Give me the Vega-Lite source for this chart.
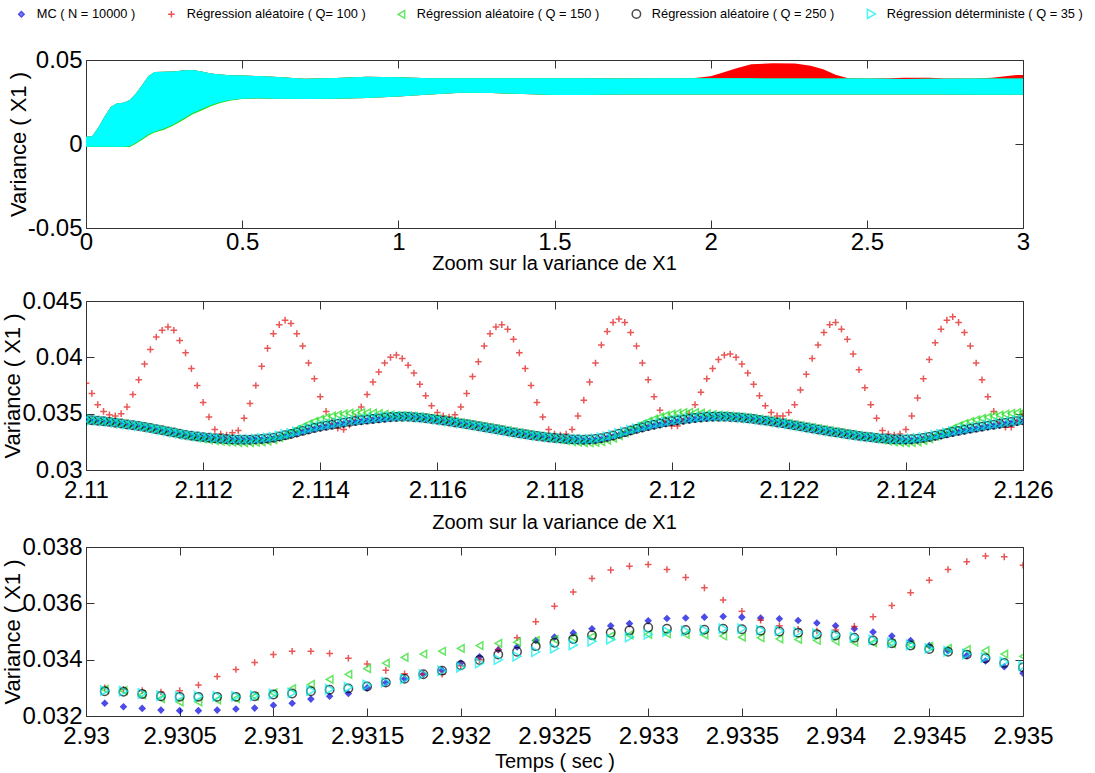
{
"$schema": "https://vega.github.io/schema/vega-lite/v6.json",
"background": "white",
"padding": {"left": 1, "top": 7, "right": 5, "bottom": 0},
"spacing": -2,
"config": {
  "font": "Liberation Sans",
  "view": {"stroke": "#333", "strokeWidth": 1},
  "axis": {"grid": false, "domain": false, "tickColor": "#333", "tickSize": -8, "labelFont": "Liberation Sans", "labelFontSize": 24, "labelColor": "#000", "titleFont": "Liberation Sans", "titleFontWeight": "normal", "titleColor": "#000", "titleFontSize": 22, "labelOverlap": false, "labelFlush": false, "labelPadding": 12},
  "legend": {"labelFont": "Liberation Sans", "labelFontSize": 12.8, "labelColor": "#000", "labelLimit": 400, "columnPadding": 29, "labelOffset": 9, "symbolStrokeWidth": 1.5, "padding": 0}
},
"datasets": {
"lab": [
 {"k": "a", "lbl": "MC ( N = 10000 )"},
 {"k": "b", "lbl": "Régression aléatoire ( Q= 100 )"},
 {"k": "c", "lbl": "Régression aléatoire ( Q = 150 )"},
 {"k": "d", "lbl": "Régression aléatoire ( Q = 250 )"},
 {"k": "e", "lbl": "Régression déterministe ( Q = 35 )"}
],
"top": [
 {"t":0,"lo":-0.0016,"hi":0.0043,"glo":-0.0018,"rhi":0.0043},
 {"t":0.02,"lo":-0.0016,"hi":0.0046,"glo":-0.0018,"rhi":0.0046},
 {"t":0.04,"lo":-0.0016,"hi":0.0100,"glo":-0.0018,"rhi":0.0100},
 {"t":0.06,"lo":-0.0016,"hi":0.0165,"glo":-0.0018,"rhi":0.0165},
 {"t":0.08,"lo":-0.0016,"hi":0.0222,"glo":-0.0018,"rhi":0.0222},
 {"t":0.10,"lo":-0.0016,"hi":0.0242,"glo":-0.0018,"rhi":0.0242},
 {"t":0.12,"lo":-0.0016,"hi":0.0246,"glo":-0.0018,"rhi":0.0246},
 {"t":0.14,"lo":-0.0012,"hi":0.0262,"glo":-0.0018,"rhi":0.0262},
 {"t":0.16,"lo":0.0008,"hi":0.0300,"glo":0.0002,"rhi":0.0300},
 {"t":0.18,"lo":0.0032,"hi":0.0351,"glo":0.0025,"rhi":0.0351},
 {"t":0.20,"lo":0.0058,"hi":0.0405,"glo":0.0050,"rhi":0.0405},
 {"t":0.22,"lo":0.0075,"hi":0.0428,"glo":0.0068,"rhi":0.0428},
 {"t":0.25,"lo":0.0092,"hi":0.0430,"glo":0.0085,"rhi":0.0430},
 {"t":0.28,"lo":0.0118,"hi":0.0432,"glo":0.0110,"rhi":0.0432},
 {"t":0.31,"lo":0.0150,"hi":0.0437,"glo":0.0142,"rhi":0.0437},
 {"t":0.34,"lo":0.0183,"hi":0.0440,"glo":0.0175,"rhi":0.0440},
 {"t":0.37,"lo":0.0208,"hi":0.0432,"glo":0.0200,"rhi":0.0432},
 {"t":0.40,"lo":0.0232,"hi":0.0420,"glo":0.0225,"rhi":0.0420},
 {"t":0.43,"lo":0.0250,"hi":0.0413,"glo":0.0244,"rhi":0.0413},
 {"t":0.46,"lo":0.0262,"hi":0.0409,"glo":0.0258,"rhi":0.0409},
 {"t":0.50,"lo":0.0270,"hi":0.0407,"glo":0.0268,"rhi":0.0407},
 {"t":0.55,"lo":0.0272,"hi":0.0405,"glo":0.0271,"rhi":0.0405},
 {"t":0.60,"lo":0.0270,"hi":0.0400,"glo":0.0270,"rhi":0.0400},
 {"t":0.70,"lo":0.0268,"hi":0.0389,"glo":0.0268,"rhi":0.0389},
 {"t":0.80,"lo":0.0270,"hi":0.0393,"glo":0.0270,"rhi":0.0393},
 {"t":0.90,"lo":0.0274,"hi":0.0401,"glo":0.0274,"rhi":0.0401},
 {"t":1.00,"lo":0.0282,"hi":0.0398,"glo":0.0282,"rhi":0.0398},
 {"t":1.10,"lo":0.0295,"hi":0.0392,"glo":0.0295,"rhi":0.0392},
 {"t":1.20,"lo":0.0305,"hi":0.0391,"glo":0.0305,"rhi":0.0391},
 {"t":1.30,"lo":0.0303,"hi":0.0392,"glo":0.0303,"rhi":0.0392},
 {"t":1.40,"lo":0.0297,"hi":0.0391,"glo":0.0297,"rhi":0.0391},
 {"t":1.50,"lo":0.0292,"hi":0.0391,"glo":0.0292,"rhi":0.0391},
 {"t":1.60,"lo":0.0292,"hi":0.0391,"glo":0.0292,"rhi":0.0391},
 {"t":1.70,"lo":0.0294,"hi":0.0390,"glo":0.0294,"rhi":0.0390},
 {"t":1.80,"lo":0.0295,"hi":0.0391,"glo":0.0295,"rhi":0.0391},
 {"t":1.90,"lo":0.0295,"hi":0.0391,"glo":0.0295,"rhi":0.0391},
 {"t":1.95,"lo":0.0295,"hi":0.0391,"glo":0.0295,"rhi":0.0393},
 {"t":2.00,"lo":0.0295,"hi":0.0391,"glo":0.0295,"rhi":0.0404},
 {"t":2.04,"lo":0.0295,"hi":0.0391,"glo":0.0295,"rhi":0.0425},
 {"t":2.08,"lo":0.0295,"hi":0.0391,"glo":0.0295,"rhi":0.0450},
 {"t":2.13,"lo":0.0295,"hi":0.0391,"glo":0.0295,"rhi":0.0474},
 {"t":2.20,"lo":0.0294,"hi":0.0390,"glo":0.0294,"rhi":0.0480},
 {"t":2.27,"lo":0.0294,"hi":0.0390,"glo":0.0294,"rhi":0.0479},
 {"t":2.32,"lo":0.0294,"hi":0.0390,"glo":0.0294,"rhi":0.0466},
 {"t":2.36,"lo":0.0294,"hi":0.0390,"glo":0.0294,"rhi":0.0445},
 {"t":2.40,"lo":0.0294,"hi":0.0390,"glo":0.0294,"rhi":0.0412},
 {"t":2.44,"lo":0.0294,"hi":0.0390,"glo":0.0294,"rhi":0.0391},
 {"t":2.50,"lo":0.0294,"hi":0.0390,"glo":0.0294,"rhi":0.0390},
 {"t":2.57,"lo":0.0294,"hi":0.0389,"glo":0.0294,"rhi":0.0391},
 {"t":2.62,"lo":0.0295,"hi":0.0387,"glo":0.0295,"rhi":0.0395},
 {"t":2.70,"lo":0.0295,"hi":0.0388,"glo":0.0295,"rhi":0.0395},
 {"t":2.75,"lo":0.0294,"hi":0.0389,"glo":0.0294,"rhi":0.0390},
 {"t":2.85,"lo":0.0293,"hi":0.0390,"glo":0.0293,"rhi":0.0390},
 {"t":2.90,"lo":0.0293,"hi":0.0390,"glo":0.0293,"rhi":0.0395},
 {"t":2.95,"lo":0.0293,"hi":0.0390,"glo":0.0293,"rhi":0.0405},
 {"t":2.98,"lo":0.0293,"hi":0.0390,"glo":0.0293,"rhi":0.0410},
 {"t":3.00,"lo":0.0293,"hi":0.0390,"glo":0.0293,"rhi":0.0410}
],
"mid": [
{"t":2.11,"a":0.03445,"b":0.0377,"c":0.03445,"d":0.03447,"e":0.0345},
{"t":2.1101,"a":0.0344,"b":0.0368,"c":0.0344,"d":0.03442,"e":0.03445},
{"t":2.1102,"a":0.03435,"b":0.0358,"c":0.03435,"d":0.03437,"e":0.0344},
{"t":2.1103,"a":0.0343,"b":0.0352,"c":0.0343,"d":0.03432,"e":0.03435},
{"t":2.1104,"a":0.03425,"b":0.0349,"c":0.03425,"d":0.03427,"e":0.0343},
{"t":2.1105,"a":0.03418,"b":0.0348,"c":0.03418,"d":0.0342,"e":0.03423},
{"t":2.1106,"a":0.0341,"b":0.035,"c":0.0341,"d":0.03412,"e":0.03415},
{"t":2.1107,"a":0.03402,"b":0.0356,"c":0.03402,"d":0.03404,"e":0.03407},
{"t":2.1108,"a":0.03395,"b":0.0367,"c":0.03395,"d":0.03397,"e":0.034},
{"t":2.1109,"a":0.03388,"b":0.038,"c":0.03388,"d":0.0339,"e":0.03393},
{"t":2.111,"a":0.0338,"b":0.0394,"c":0.0338,"d":0.03382,"e":0.03385},
{"t":2.1111,"a":0.0337,"b":0.0407,"c":0.0337,"d":0.03372,"e":0.03375},
{"t":2.1112,"a":0.0336,"b":0.0418,"c":0.0336,"d":0.03362,"e":0.03365},
{"t":2.1113,"a":0.0335,"b":0.0424,"c":0.0335,"d":0.03352,"e":0.03355},
{"t":2.1114,"a":0.0334,"b":0.0427,"c":0.0334,"d":0.03342,"e":0.03345},
{"t":2.1115,"a":0.0333,"b":0.0424,"c":0.0333,"d":0.03332,"e":0.03335},
{"t":2.1116,"a":0.0332,"b":0.0415,"c":0.03318,"d":0.03322,"e":0.03325},
{"t":2.1117,"a":0.0331,"b":0.0404,"c":0.03306,"d":0.03312,"e":0.03315},
{"t":2.1118,"a":0.03302,"b":0.039,"c":0.03295,"d":0.03304,"e":0.03307},
{"t":2.1119,"a":0.03295,"b":0.0375,"c":0.03285,"d":0.03297,"e":0.033},
{"t":2.112,"a":0.0329,"b":0.036,"c":0.03276,"d":0.03292,"e":0.03295},
{"t":2.1121,"a":0.03285,"b":0.0347,"c":0.03268,"d":0.03287,"e":0.0329},
{"t":2.1122,"a":0.0328,"b":0.0336,"c":0.03261,"d":0.03282,"e":0.03285},
{"t":2.1123,"a":0.03275,"b":0.0332,"c":0.03255,"d":0.03277,"e":0.0328},
{"t":2.1124,"a":0.03272,"b":0.0331,"c":0.0325,"d":0.03274,"e":0.03277},
{"t":2.1125,"a":0.03269,"b":0.0333,"c":0.03246,"d":0.03271,"e":0.03274},
{"t":2.1126,"a":0.03267,"b":0.0335,"c":0.03243,"d":0.03269,"e":0.03272},
{"t":2.1127,"a":0.03266,"b":0.0346,"c":0.03242,"d":0.03268,"e":0.03271},
{"t":2.1128,"a":0.03267,"b":0.0359,"c":0.03243,"d":0.03269,"e":0.03272},
{"t":2.1129,"a":0.0327,"b":0.0375,"c":0.03246,"d":0.03272,"e":0.03275},
{"t":2.113,"a":0.03265,"b":0.0392,"c":0.0325,"d":0.03275,"e":0.0328},
{"t":2.1131,"a":0.0327,"b":0.0408,"c":0.03257,"d":0.0328,"e":0.03285},
{"t":2.1132,"a":0.03277,"b":0.0421,"c":0.0327,"d":0.03287,"e":0.03292},
{"t":2.1133,"a":0.03287,"b":0.0429,"c":0.03288,"d":0.03297,"e":0.03302},
{"t":2.1134,"a":0.03298,"b":0.0433,"c":0.0331,"d":0.03308,"e":0.03313},
{"t":2.1135,"a":0.0331,"b":0.043,"c":0.03335,"d":0.0332,"e":0.03325},
{"t":2.1136,"a":0.03323,"b":0.0421,"c":0.0336,"d":0.03333,"e":0.03338},
{"t":2.1137,"a":0.03337,"b":0.041,"c":0.03385,"d":0.03347,"e":0.03352},
{"t":2.1138,"a":0.0335,"b":0.0395,"c":0.0341,"d":0.0336,"e":0.03365},
{"t":2.1139,"a":0.03362,"b":0.0381,"c":0.03432,"d":0.03372,"e":0.03377},
{"t":2.114,"a":0.03373,"b":0.0365,"c":0.0345,"d":0.03383,"e":0.03388},
{"t":2.1141,"a":0.03383,"b":0.0352,"c":0.03465,"d":0.03393,"e":0.03398},
{"t":2.1142,"a":0.03392,"b":0.0343,"c":0.03478,"d":0.03402,"e":0.03407},
{"t":2.1143,"a":0.03401,"b":0.0337,"c":0.0349,"d":0.03411,"e":0.03416},
{"t":2.1144,"a":0.03409,"b":0.0336,"c":0.03498,"d":0.03419,"e":0.03424},
{"t":2.1145,"a":0.03417,"b":0.034,"c":0.03505,"d":0.03427,"e":0.03432},
{"t":2.1146,"a":0.03424,"b":0.0347,"c":0.03508,"d":0.03434,"e":0.03439},
{"t":2.1147,"a":0.03431,"b":0.0356,"c":0.0351,"d":0.03441,"e":0.03446},
{"t":2.1148,"a":0.03437,"b":0.0367,"c":0.03508,"d":0.03447,"e":0.03452},
{"t":2.1149,"a":0.03443,"b":0.0378,"c":0.03505,"d":0.03453,"e":0.03458},
{"t":2.115,"a":0.03448,"b":0.0387,"c":0.035,"d":0.03458,"e":0.03463},
{"t":2.1151,"a":0.03453,"b":0.0395,"c":0.03495,"d":0.03463,"e":0.03468},
{"t":2.1152,"a":0.03459,"b":0.04,"c":0.0349,"d":0.03468,"e":0.03472},
{"t":2.1153,"a":0.03464,"b":0.0402,"c":0.03485,"d":0.03471,"e":0.03475},
{"t":2.1154,"a":0.03468,"b":0.0399,"c":0.03482,"d":0.03472,"e":0.03476},
{"t":2.1155,"a":0.0347,"b":0.0393,"c":0.0348,"d":0.03472,"e":0.03475},
{"t":2.1156,"a":0.03467,"b":0.0386,"c":0.03477,"d":0.03469,"e":0.03472},
{"t":2.1157,"a":0.03463,"b":0.0376,"c":0.03472,"d":0.03465,"e":0.03468},
{"t":2.1158,"a":0.03457,"b":0.0366,"c":0.03466,"d":0.03459,"e":0.03462},
{"t":2.1159,"a":0.03451,"b":0.0357,"c":0.0346,"d":0.03453,"e":0.03456},
{"t":2.116,"a":0.03444,"b":0.0351,"c":0.03453,"d":0.03446,"e":0.03449},
{"t":2.1161,"a":0.03436,"b":0.0348,"c":0.03445,"d":0.03438,"e":0.03441},
{"t":2.1162,"a":0.03428,"b":0.0347,"c":0.03437,"d":0.0343,"e":0.03433},
{"t":2.1163,"a":0.0342,"b":0.0349,"c":0.03429,"d":0.03422,"e":0.03425},
{"t":2.1164,"a":0.03412,"b":0.0356,"c":0.03421,"d":0.03414,"e":0.03417},
{"t":2.1165,"a":0.03404,"b":0.0368,"c":0.03413,"d":0.03406,"e":0.03409},
{"t":2.1166,"a":0.03395,"b":0.0383,"c":0.03404,"d":0.03397,"e":0.034},
{"t":2.1167,"a":0.03386,"b":0.0396,"c":0.03395,"d":0.03388,"e":0.03391},
{"t":2.1168,"a":0.03377,"b":0.041,"c":0.03386,"d":0.03379,"e":0.03382},
{"t":2.1169,"a":0.03368,"b":0.0421,"c":0.03377,"d":0.0337,"e":0.03373},
{"t":2.117,"a":0.03359,"b":0.0427,"c":0.03368,"d":0.03361,"e":0.03364},
{"t":2.1171,"a":0.0335,"b":0.0429,"c":0.03359,"d":0.03352,"e":0.03355},
{"t":2.1172,"a":0.03341,"b":0.0425,"c":0.0335,"d":0.03343,"e":0.03346},
{"t":2.1173,"a":0.03332,"b":0.0416,"c":0.03341,"d":0.03334,"e":0.03337},
{"t":2.1174,"a":0.03323,"b":0.0404,"c":0.03332,"d":0.03325,"e":0.03328},
{"t":2.1175,"a":0.03315,"b":0.039,"c":0.03322,"d":0.03317,"e":0.0332},
{"t":2.1176,"a":0.03307,"b":0.0375,"c":0.03312,"d":0.03309,"e":0.03312},
{"t":2.1177,"a":0.033,"b":0.036,"c":0.03303,"d":0.03302,"e":0.03305},
{"t":2.1178,"a":0.03293,"b":0.0347,"c":0.03294,"d":0.03295,"e":0.03298},
{"t":2.1179,"a":0.03287,"b":0.0336,"c":0.03287,"d":0.03289,"e":0.03292},
{"t":2.118,"a":0.03282,"b":0.0332,"c":0.0328,"d":0.03284,"e":0.03287},
{"t":2.1181,"a":0.03277,"b":0.0331,"c":0.0327,"d":0.03279,"e":0.03282},
{"t":2.1182,"a":0.03273,"b":0.0332,"c":0.0326,"d":0.03275,"e":0.03278},
{"t":2.1183,"a":0.0327,"b":0.0336,"c":0.03252,"d":0.03272,"e":0.03275},
{"t":2.1184,"a":0.03268,"b":0.0348,"c":0.03246,"d":0.0327,"e":0.03273},
{"t":2.1185,"a":0.03262,"b":0.0362,"c":0.03242,"d":0.03269,"e":0.03272},
{"t":2.1186,"a":0.0326,"b":0.0378,"c":0.03242,"d":0.0327,"e":0.03273},
{"t":2.1187,"a":0.03263,"b":0.0395,"c":0.03245,"d":0.03275,"e":0.03278},
{"t":2.1188,"a":0.03271,"b":0.0411,"c":0.03252,"d":0.03283,"e":0.03286},
{"t":2.1189,"a":0.03282,"b":0.0423,"c":0.03265,"d":0.03294,"e":0.03297},
{"t":2.119,"a":0.03295,"b":0.0431,"c":0.03282,"d":0.03307,"e":0.0331},
{"t":2.1191,"a":0.03309,"b":0.0434,"c":0.03305,"d":0.03321,"e":0.03324},
{"t":2.1192,"a":0.03324,"b":0.0431,"c":0.0333,"d":0.03336,"e":0.03339},
{"t":2.1193,"a":0.03339,"b":0.0422,"c":0.03357,"d":0.03351,"e":0.03354},
{"t":2.1194,"a":0.03353,"b":0.041,"c":0.03385,"d":0.03365,"e":0.03368},
{"t":2.1195,"a":0.03366,"b":0.0395,"c":0.0341,"d":0.03378,"e":0.03381},
{"t":2.1196,"a":0.03378,"b":0.038,"c":0.03432,"d":0.0339,"e":0.03393},
{"t":2.1197,"a":0.0339,"b":0.0365,"c":0.03452,"d":0.03402,"e":0.03405},
{"t":2.1198,"a":0.03401,"b":0.0353,"c":0.0347,"d":0.03413,"e":0.03416},
{"t":2.1199,"a":0.03411,"b":0.0344,"c":0.03485,"d":0.03423,"e":0.03426},
{"t":2.12,"a":0.0342,"b":0.0339,"c":0.03497,"d":0.03432,"e":0.03435},
{"t":2.1201,"a":0.03428,"b":0.0339,"c":0.03505,"d":0.0344,"e":0.03443},
{"t":2.1202,"a":0.03435,"b":0.0343,"c":0.0351,"d":0.03447,"e":0.0345},
{"t":2.1203,"a":0.03442,"b":0.035,"c":0.03512,"d":0.03454,"e":0.03457},
{"t":2.1204,"a":0.03449,"b":0.0358,"c":0.0351,"d":0.03461,"e":0.03464},
{"t":2.1205,"a":0.03455,"b":0.0369,"c":0.03505,"d":0.03466,"e":0.03469},
{"t":2.1206,"a":0.0346,"b":0.0381,"c":0.03498,"d":0.0347,"e":0.03473},
{"t":2.1207,"a":0.03465,"b":0.039,"c":0.03492,"d":0.03472,"e":0.03475},
{"t":2.1208,"a":0.03469,"b":0.0398,"c":0.03487,"d":0.03473,"e":0.03476},
{"t":2.1209,"a":0.0347,"b":0.0402,"c":0.03482,"d":0.03472,"e":0.03475},
{"t":2.121,"a":0.03468,"b":0.0403,"c":0.03478,"d":0.0347,"e":0.03473},
{"t":2.1211,"a":0.03465,"b":0.04,"c":0.03474,"d":0.03467,"e":0.0347},
{"t":2.1212,"a":0.03461,"b":0.0394,"c":0.0347,"d":0.03463,"e":0.03466},
{"t":2.1213,"a":0.03456,"b":0.0386,"c":0.03465,"d":0.03458,"e":0.03461},
{"t":2.1214,"a":0.0345,"b":0.0376,"c":0.03459,"d":0.03452,"e":0.03455},
{"t":2.1215,"a":0.03443,"b":0.0366,"c":0.03452,"d":0.03445,"e":0.03448},
{"t":2.1216,"a":0.03436,"b":0.0357,"c":0.03445,"d":0.03438,"e":0.03441},
{"t":2.1217,"a":0.03428,"b":0.0351,"c":0.03437,"d":0.0343,"e":0.03433},
{"t":2.1218,"a":0.0342,"b":0.0348,"c":0.03429,"d":0.03422,"e":0.03425},
{"t":2.1219,"a":0.03412,"b":0.0348,"c":0.03421,"d":0.03414,"e":0.03417},
{"t":2.122,"a":0.03403,"b":0.0351,"c":0.03412,"d":0.03405,"e":0.03408},
{"t":2.1221,"a":0.03394,"b":0.0358,"c":0.03403,"d":0.03396,"e":0.03399},
{"t":2.1222,"a":0.03385,"b":0.0371,"c":0.03394,"d":0.03387,"e":0.0339},
{"t":2.1223,"a":0.03376,"b":0.0385,"c":0.03385,"d":0.03378,"e":0.03381},
{"t":2.1224,"a":0.03367,"b":0.0399,"c":0.03376,"d":0.03369,"e":0.03372},
{"t":2.1225,"a":0.03358,"b":0.0411,"c":0.03367,"d":0.0336,"e":0.03363},
{"t":2.1226,"a":0.03349,"b":0.0422,"c":0.03358,"d":0.03351,"e":0.03354},
{"t":2.1227,"a":0.0334,"b":0.0429,"c":0.03349,"d":0.03342,"e":0.03345},
{"t":2.1228,"a":0.03332,"b":0.0431,"c":0.0334,"d":0.03334,"e":0.03337},
{"t":2.1229,"a":0.03324,"b":0.0425,"c":0.03332,"d":0.03326,"e":0.03329},
{"t":2.123,"a":0.03316,"b":0.0416,"c":0.03323,"d":0.03318,"e":0.03321},
{"t":2.1231,"a":0.03308,"b":0.0403,"c":0.03314,"d":0.0331,"e":0.03313},
{"t":2.1232,"a":0.03301,"b":0.0389,"c":0.03305,"d":0.03303,"e":0.03306},
{"t":2.1233,"a":0.03294,"b":0.0373,"c":0.03297,"d":0.03296,"e":0.03299},
{"t":2.1234,"a":0.03288,"b":0.0358,"c":0.0329,"d":0.0329,"e":0.03293},
{"t":2.1235,"a":0.03282,"b":0.0346,"c":0.03278,"d":0.03284,"e":0.03287},
{"t":2.1236,"a":0.03277,"b":0.0335,"c":0.03267,"d":0.03279,"e":0.03282},
{"t":2.1237,"a":0.03273,"b":0.0332,"c":0.03257,"d":0.03275,"e":0.03278},
{"t":2.1238,"a":0.0327,"b":0.0331,"c":0.03249,"d":0.03272,"e":0.03275},
{"t":2.1239,"a":0.03268,"b":0.0332,"c":0.03244,"d":0.0327,"e":0.03273},
{"t":2.124,"a":0.0326,"b":0.0336,"c":0.03242,"d":0.0327,"e":0.03273},
{"t":2.1241,"a":0.03261,"b":0.0348,"c":0.03244,"d":0.03273,"e":0.03276},
{"t":2.1242,"a":0.03266,"b":0.0364,"c":0.0325,"d":0.03278,"e":0.03281},
{"t":2.1243,"a":0.03273,"b":0.0381,"c":0.03262,"d":0.03285,"e":0.03288},
{"t":2.1244,"a":0.03282,"b":0.0398,"c":0.03278,"d":0.03294,"e":0.03297},
{"t":2.1245,"a":0.03292,"b":0.0413,"c":0.03298,"d":0.03304,"e":0.03307},
{"t":2.1246,"a":0.03303,"b":0.0425,"c":0.0332,"d":0.03315,"e":0.03318},
{"t":2.1247,"a":0.03314,"b":0.0433,"c":0.03345,"d":0.03326,"e":0.03329},
{"t":2.1248,"a":0.03325,"b":0.0436,"c":0.0337,"d":0.03337,"e":0.0334},
{"t":2.1249,"a":0.03335,"b":0.0431,"c":0.03393,"d":0.03347,"e":0.0335},
{"t":2.125,"a":0.03345,"b":0.0422,"c":0.03413,"d":0.03357,"e":0.0336},
{"t":2.1251,"a":0.03355,"b":0.041,"c":0.0343,"d":0.03367,"e":0.0337},
{"t":2.1252,"a":0.03364,"b":0.0395,"c":0.03445,"d":0.03376,"e":0.03379},
{"t":2.1253,"a":0.03373,"b":0.038,"c":0.03458,"d":0.03385,"e":0.03388},
{"t":2.1254,"a":0.03382,"b":0.0365,"c":0.0347,"d":0.03394,"e":0.03397},
{"t":2.1255,"a":0.0339,"b":0.0352,"c":0.0348,"d":0.03402,"e":0.03405},
{"t":2.1256,"a":0.03398,"b":0.0343,"c":0.03488,"d":0.0341,"e":0.03413},
{"t":2.1257,"a":0.03406,"b":0.0338,"c":0.03496,"d":0.03418,"e":0.03421},
{"t":2.1258,"a":0.03414,"b":0.0338,"c":0.03503,"d":0.03426,"e":0.03429},
{"t":2.1259,"a":0.03422,"b":0.0343,"c":0.0351,"d":0.03434,"e":0.03437},
{"t":2.126,"a":0.0343,"b":0.035,"c":0.03515,"d":0.03442,"e":0.03445}
],
"bot": [
{"t":2.9301,"a":0.03245,"b":0.033,"c":0.03295,"d":0.03288,"e":0.0329},
{"t":2.9302,"a":0.03233,"b":0.03295,"c":0.0329,"d":0.03286,"e":0.03288},
{"t":2.9303,"a":0.03227,"b":0.0329,"c":0.03275,"d":0.03278,"e":0.0328},
{"t":2.9304,"a":0.03221,"b":0.03285,"c":0.03262,"d":0.0327,"e":0.03272},
{"t":2.9305,"a":0.03219,"b":0.0329,"c":0.0325,"d":0.03268,"e":0.0327},
{"t":2.9306,"a":0.03219,"b":0.0331,"c":0.0325,"d":0.03268,"e":0.0327},
{"t":2.9307,"a":0.03221,"b":0.0334,"c":0.03257,"d":0.03268,"e":0.0327},
{"t":2.9308,"a":0.03225,"b":0.03365,"c":0.03262,"d":0.03268,"e":0.0327},
{"t":2.9309,"a":0.03228,"b":0.0339,"c":0.0327,"d":0.0327,"e":0.03272},
{"t":2.931,"a":0.03238,"b":0.03418,"c":0.03282,"d":0.03276,"e":0.03278},
{"t":2.9311,"a":0.03245,"b":0.0343,"c":0.03297,"d":0.0328,"e":0.03282},
{"t":2.9312,"a":0.0326,"b":0.0343,"c":0.03312,"d":0.03288,"e":0.0329},
{"t":2.9313,"a":0.0327,"b":0.03422,"c":0.0333,"d":0.03293,"e":0.03295},
{"t":2.9314,"a":0.0328,"b":0.03405,"c":0.03348,"d":0.03298,"e":0.03302},
{"t":2.9315,"a":0.033,"b":0.03385,"c":0.03368,"d":0.03305,"e":0.0331},
{"t":2.9316,"a":0.03318,"b":0.03362,"c":0.03388,"d":0.03319,"e":0.0332},
{"t":2.9317,"a":0.03332,"b":0.0335,"c":0.03408,"d":0.03332,"e":0.03332},
{"t":2.9318,"a":0.03348,"b":0.03348,"c":0.0342,"d":0.03348,"e":0.03348},
{"t":2.9319,"a":0.03362,"b":0.03348,"c":0.0343,"d":0.03361,"e":0.0336},
{"t":2.932,"a":0.03388,"b":0.03378,"c":0.0344,"d":0.0338,"e":0.03373},
{"t":2.9321,"a":0.0341,"b":0.034,"c":0.0345,"d":0.03399,"e":0.03388},
{"t":2.9322,"a":0.03435,"b":0.03435,"c":0.03458,"d":0.03418,"e":0.034},
{"t":2.9323,"a":0.03445,"b":0.03478,"c":0.03462,"d":0.03428,"e":0.03412},
{"t":2.9324,"a":0.03468,"b":0.03535,"c":0.03468,"d":0.03448,"e":0.03428},
{"t":2.9325,"a":0.0348,"b":0.0359,"c":0.03472,"d":0.0346,"e":0.0344},
{"t":2.9326,"a":0.03495,"b":0.0364,"c":0.03478,"d":0.03473,"e":0.03452},
{"t":2.9327,"a":0.0351,"b":0.03688,"c":0.03482,"d":0.03487,"e":0.03465},
{"t":2.9328,"a":0.0352,"b":0.03718,"c":0.03484,"d":0.03496,"e":0.03472},
{"t":2.9329,"a":0.03528,"b":0.03732,"c":0.03488,"d":0.03504,"e":0.0348},
{"t":2.933,"a":0.03538,"b":0.03738,"c":0.0349,"d":0.03514,"e":0.0349},
{"t":2.9331,"a":0.03546,"b":0.0372,"c":0.03492,"d":0.0351,"e":0.035},
{"t":2.9332,"a":0.03548,"b":0.03692,"c":0.0349,"d":0.03505,"e":0.03502},
{"t":2.9333,"a":0.03551,"b":0.03655,"c":0.03488,"d":0.03506,"e":0.03505},
{"t":2.9334,"a":0.03553,"b":0.03612,"c":0.03484,"d":0.0351,"e":0.0351},
{"t":2.9335,"a":0.03551,"b":0.03572,"c":0.0348,"d":0.03508,"e":0.0351},
{"t":2.9336,"a":0.03548,"b":0.0354,"c":0.03478,"d":0.03503,"e":0.03505},
{"t":2.9337,"a":0.03545,"b":0.0352,"c":0.03474,"d":0.035,"e":0.03502},
{"t":2.9338,"a":0.03539,"b":0.03508,"c":0.03472,"d":0.03496,"e":0.03498},
{"t":2.9339,"a":0.0353,"b":0.03502,"c":0.03468,"d":0.0349,"e":0.03492},
{"t":2.934,"a":0.0352,"b":0.03505,"c":0.03466,"d":0.03486,"e":0.03488},
{"t":2.9341,"a":0.0351,"b":0.03518,"c":0.03462,"d":0.03478,"e":0.0348},
{"t":2.9342,"a":0.03498,"b":0.03552,"c":0.0346,"d":0.03468,"e":0.0347},
{"t":2.9343,"a":0.03484,"b":0.03592,"c":0.03457,"d":0.03458,"e":0.0346},
{"t":2.9344,"a":0.03468,"b":0.03638,"c":0.03452,"d":0.0345,"e":0.03452},
{"t":2.9345,"a":0.0345,"b":0.03682,"c":0.03447,"d":0.03438,"e":0.0344},
{"t":2.9346,"a":0.03432,"b":0.0372,"c":0.0344,"d":0.03428,"e":0.0343},
{"t":2.9347,"a":0.03415,"b":0.03748,"c":0.03436,"d":0.03418,"e":0.0342},
{"t":2.9348,"a":0.03395,"b":0.03768,"c":0.03432,"d":0.03405,"e":0.03408},
{"t":2.9349,"a":0.03375,"b":0.03765,"c":0.0342,"d":0.03388,"e":0.03392},
{"t":2.935,"a":0.03352,"b":0.03735,"c":0.03412,"d":0.03372,"e":0.03378}
]
},
"vconcat": [
{
  "width": 937, "height": 168,
  "data": {"name": "top"},
  "layer": [
    {"mark": {"type": "area", "color": "#FF0000"},
     "encoding": {
       "x": {"field": "t", "type": "quantitative", "scale": {"domain": [0, 3], "nice": false, "zero": false}, "axis": {"orient": "bottom", "values": [0, 0.5, 1, 1.5, 2, 2.5, 3], "format": "~g", "title": null, "labelPadding": 10}},
       "y": {"field": "lo", "type": "quantitative", "scale": {"domain": [-0.05, 0.05], "nice": false, "zero": false}, "axis": {"orient": "left", "values": [-0.05, 0, 0.05], "format": "~g", "labelExpr": "replace(datum.label, '\u2212', '-')", "title": "Variance ( X1 )", "titlePadding": -3}},
       "y2": {"field": "rhi"}}},
    {"mark": {"type": "area", "color": "#22DD22"},
     "encoding": {
       "x": {"field": "t", "type": "quantitative", "axis": null},
       "y": {"field": "glo", "type": "quantitative", "axis": null},
       "y2": {"field": "hi"}}},
    {"mark": {"type": "area", "color": "#00FFFF"},
     "encoding": {
       "x": {"field": "t", "type": "quantitative", "axis": null},
       "y": {"field": "lo", "type": "quantitative", "axis": null},
       "y2": {"field": "hi"}}},
    {"mark": {"type": "point", "opacity": 0},
     "encoding": {
       "x": {"field": "t", "type": "quantitative", "axis": {"orient": "top", "values": [0, 0.5, 1, 1.5, 2, 2.5, 3], "labels": false, "title": null}},
       "y": {"field": "lo", "type": "quantitative", "axis": {"orient": "right", "values": [-0.05, 0, 0.05], "labels": false, "title": null}}}}
  ],
  "resolve": {"axis": {"x": "independent", "y": "independent"}}
},
{
  "spacing": 9,
  "vconcat": [
  {
    "width": 937, "height": 169,
    "title": {"text": "Zoom sur la variance de X1", "fontSize": 20, "font": "Liberation Sans", "fontWeight": "normal", "color": "#000", "frame": "group", "offset": 15},
    "data": {"name": "mid"},
    "transform": [
      {"fold": ["a", "b", "c", "d", "e"], "as": ["s", "v"]},
      {"lookup": "s", "from": {"data": {"name": "lab"}, "key": "k", "fields": ["lbl"]}}
    ],
    "layer": [
      {"mark": {"type": "point", "strokeWidth": 1.5, "clip": true},
       "encoding": {
         "x": {"field": "t", "type": "quantitative", "scale": {"domain": [2.11, 2.126], "nice": false, "zero": false}, "axis": {"orient": "bottom", "values": [2.11, 2.112, 2.114, 2.116, 2.118, 2.12, 2.122, 2.124, 2.126], "format": "~g", "title": null, "labelPadding": 16}},
         "y": {"field": "v", "type": "quantitative", "scale": {"domain": [0.03, 0.045], "nice": false, "zero": false}, "axis": {"orient": "left", "values": [0.03, 0.035, 0.04, 0.045], "format": "~g", "title": "Variance ( X1 )", "titlePadding": -3}},
         "stroke": {"field": "lbl", "type": "nominal", "title": null, "scale": {"domain": ["MC ( N = 10000 )", "Régression aléatoire ( Q= 100 )", "Régression aléatoire ( Q = 150 )", "Régression aléatoire ( Q = 250 )", "Régression déterministe ( Q = 35 )"], "range": ["#0000DD", "#E01010", "#22DD22", "#000000", "#00EEEE"]}, "legend": {"orient": "none", "direction": "horizontal", "columns": 5, "legendX": -71, "legendY": -53}},
         "fill": {"field": "lbl", "type": "nominal", "title": null, "scale": {"domain": ["MC ( N = 10000 )", "Régression aléatoire ( Q= 100 )", "Régression aléatoire ( Q = 150 )", "Régression aléatoire ( Q = 250 )", "Régression déterministe ( Q = 35 )"], "range": ["#0000DD", "transparent", "transparent", "transparent", "transparent"]}, "legend": {"orient": "none", "direction": "horizontal", "columns": 5, "legendX": -71, "legendY": -53}},
         "shape": {"field": "lbl", "type": "nominal", "title": null, "scale": {"domain": ["MC ( N = 10000 )", "Régression aléatoire ( Q= 100 )", "Régression aléatoire ( Q = 150 )", "Régression aléatoire ( Q = 250 )", "Régression déterministe ( Q = 35 )"], "range": ["diamond", "M-1,0L1,0M0,-1L0,1", "triangle-left", "circle", "triangle-right"]}, "legend": {"orient": "none", "direction": "horizontal", "columns": 5, "legendX": -71, "legendY": -53}},
         "size": {"field": "lbl", "type": "nominal", "title": null, "scale": {"domain": ["MC ( N = 10000 )", "Régression aléatoire ( Q= 100 )", "Régression aléatoire ( Q = 150 )", "Régression aléatoire ( Q = 250 )", "Régression déterministe ( Q = 35 )"], "range": [30, 85, 55, 16, 55]}, "legend": {"orient": "none", "direction": "horizontal", "columns": 5, "legendX": -71, "legendY": -53}},
         "order": {"field": "s", "sort": "ascending"}}},
      {"mark": {"type": "point", "opacity": 0},
       "encoding": {
         "x": {"field": "t", "type": "quantitative", "axis": {"orient": "top", "values": [2.11, 2.112, 2.114, 2.116, 2.118, 2.12, 2.122, 2.124, 2.126], "labels": false, "title": null}},
         "y": {"field": "v", "type": "quantitative", "axis": {"orient": "right", "values": [0.03, 0.035, 0.04, 0.045], "labels": false, "title": null}}}}
    ],
    "resolve": {"axis": {"x": "independent", "y": "independent"}}
  },
  {
    "width": 937, "height": 169,
    "title": {"text": "Zoom sur la variance de X1", "fontSize": 20, "font": "Liberation Sans", "fontWeight": "normal", "color": "#000", "frame": "group", "offset": 2},
    "data": {"name": "bot"},
    "transform": [
      {"fold": ["a", "b", "c", "d", "e"], "as": ["s", "v"]},
      {"lookup": "s", "from": {"data": {"name": "lab"}, "key": "k", "fields": ["lbl"]}}
    ],
    "layer": [
      {"mark": {"type": "point", "strokeWidth": 1.5, "clip": true},
       "encoding": {
         "x": {"field": "t", "type": "quantitative", "scale": {"domain": [2.93, 2.935], "nice": false, "zero": false}, "axis": {"orient": "bottom", "values": [2.93, 2.9305, 2.931, 2.9315, 2.932, 2.9325, 2.933, 2.9335, 2.934, 2.9345, 2.935], "format": "~g", "title": "Temps ( sec )", "titleFontSize": 20, "titlePadding": 3, "labelPadding": 16}},
         "y": {"field": "v", "type": "quantitative", "scale": {"domain": [0.032, 0.038], "nice": false, "zero": false}, "axis": {"orient": "left", "values": [0.032, 0.034, 0.036, 0.038], "format": "~g", "title": "Variance ( X1 )", "titlePadding": -3}},
         "stroke": {"field": "lbl", "type": "nominal", "title": null},
         "fill": {"field": "lbl", "type": "nominal", "title": null},
         "shape": {"field": "lbl", "type": "nominal", "title": null},
         "size": {"field": "lbl", "type": "nominal", "title": null},
         "order": {"field": "s", "sort": "ascending"}}},
      {"mark": {"type": "point", "opacity": 0},
       "encoding": {
         "x": {"field": "t", "type": "quantitative", "axis": {"orient": "top", "values": [2.93, 2.9305, 2.931, 2.9315, 2.932, 2.9325, 2.933, 2.9335, 2.934, 2.9345, 2.935], "labels": false, "title": null}},
         "y": {"field": "v", "type": "quantitative", "axis": {"orient": "right", "values": [0.032, 0.034, 0.036, 0.038], "labels": false, "title": null}}}}
    ],
    "resolve": {"axis": {"x": "independent", "y": "independent"}}
  }
  ]
}
]
}
